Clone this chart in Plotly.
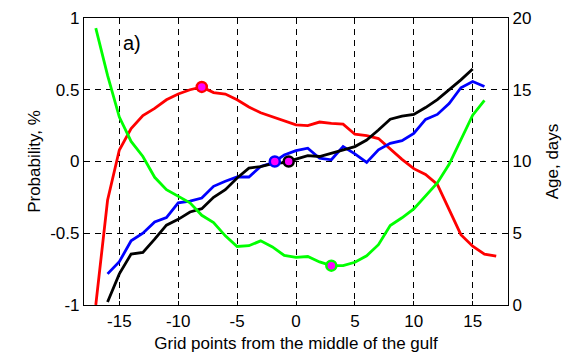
import plotly.graph_objects as go

# ---- data ----
x_red = list(range(-17, 18))
red = [-1.0, -0.27, 0.08, 0.23, 0.32, 0.37, 0.43, 0.47, 0.50, 0.52, 0.48, 0.47, 0.43, 0.38,
       0.34, 0.31, 0.28, 0.255, 0.25, 0.275, 0.265, 0.26, 0.19, 0.18, 0.16, 0.085, 0.015,
       -0.05, -0.09, -0.16, -0.34, -0.51, -0.59, -0.645, -0.66]

x_green = list(range(-17, 17))
green_age = [19.3, 16.0, 13.1, 11.4, 10.35, 8.9, 8.04, 7.55, 7.12, 6.25, 5.74, 4.82, 4.08,
             4.13, 4.47, 4.05, 3.45, 3.32, 3.38, 3.0, 2.74, 2.74, 2.98, 3.43, 4.2, 5.54,
             6.08, 6.7, 7.58, 8.51, 9.8, 11.5, 13.23, 14.26]

x_blue = list(range(-16, 17))
blue = [-0.783, -0.698, -0.553, -0.50, -0.421, -0.391, -0.288, -0.276, -0.255, -0.173,
        -0.138, -0.108, -0.108, -0.035, -0.01, 0.045, 0.076, 0.093, 0.023, 0.012, 0.104,
        0.053, -0.007, 0.081, 0.127, 0.145, 0.196, 0.293, 0.328, 0.404, 0.514, 0.558, 0.523]

x_black = list(range(-16, 16))
black = [-0.979, -0.783, -0.645, -0.633, -0.541, -0.444, -0.403, -0.352, -0.329, -0.249,
         -0.196, -0.115, -0.046, -0.035, -0.015, -0.008, 0.017, 0.041, 0.035, 0.058, 0.086,
         0.104, 0.15, 0.219, 0.295, 0.316, 0.328, 0.376, 0.431, 0.50, 0.569, 0.645]

# highlighted points
red_mark = (-8, 0.52)
blue_mark = (-1.8, 0.0)
black_mark = (-0.62, 0.0)
green_mark = (3, 2.74)

x_ticks = [-15, -10, -5, 0, 5, 10, 15]
x_ticktext = ["-15", "-10", "-5", "0", "5", "10", "15"]
y_ticks = [-1, -0.5, 0, 0.5, 1]
y_ticktext = ["-1", "-0.5", "0", "0.5", "1"]
y2_ticks = [0, 5, 10, 15, 20]
y2_ticktext = ["0", "5", "10", "15", "20"]

FONT = "Liberation Sans, Arial, Helvetica, sans-serif"
LW = 2.8

fig = go.Figure()
fig.add_trace(go.Scatter(x=x_green, y=green_age, mode="lines", yaxis="y2",
                         line=dict(color="#00ff00", width=LW)))
fig.add_trace(go.Scatter(x=x_red, y=red, mode="lines", line=dict(color="#ff0000", width=LW)))
fig.add_trace(go.Scatter(x=x_blue, y=blue, mode="lines", line=dict(color="#0000ff", width=LW)))
fig.add_trace(go.Scatter(x=x_black, y=black, mode="lines", line=dict(color="#000000", width=LW)))

for (mx, my), col, ax in [(red_mark, "#ff0000", "y"), (blue_mark, "#0000ff", "y"),
                          (black_mark, "#000000", "y"), (green_mark, "#00ff00", "y2")]:
    fig.add_trace(go.Scatter(x=[mx], y=[my], mode="markers", yaxis=ax,
                             marker=dict(size=10, color="#ff00ff", line=dict(color=col, width=2.5))))

fig.update_layout(
    width=562, height=353,
    margin=dict(l=84, r=54, t=18, b=48),
    paper_bgcolor="white", plot_bgcolor="white",
    showlegend=False,
    font=dict(family=FONT, size=16, color="black"),
    xaxis=dict(range=[-18, 18], tickvals=x_ticks, ticktext=x_ticktext, automargin=False,
               showgrid=True, gridcolor="black", gridwidth=1, griddash="6px,5px",
               showline=True, linecolor="black", linewidth=1.2, mirror=True,
               ticks="inside", ticklen=4, tickcolor="black", zeroline=False,
               title=dict(text="Grid points from the middle of the gulf", font=dict(size=17), standoff=8),
               tickfont=dict(size=17)),
    yaxis=dict(range=[-1, 1], tickvals=y_ticks, ticktext=y_ticktext, automargin=False,
               showgrid=True, gridcolor="black", gridwidth=1, griddash="6px,5px",
               showline=True, linecolor="black", linewidth=1.2,
               ticks="inside", ticklen=4, tickcolor="black", zeroline=False,
               title=dict(text="Probability, %", font=dict(size=17), standoff=5),
               tickfont=dict(size=17)),
    yaxis2=dict(range=[0, 20], tickvals=y2_ticks, ticktext=y2_ticktext, overlaying="y", side="right",
                automargin=False,
                showgrid=False, showline=True, linecolor="black", linewidth=1.2,
                ticks="inside", ticklen=4, tickcolor="black", zeroline=False,
                title=dict(text="Age, days", font=dict(size=17), standoff=15),
                tickfont=dict(size=17)),
    annotations=[dict(text="a)", x=0.088, y=0.913, xref="paper", yref="paper",
                      xanchor="left", yanchor="middle", showarrow=False, font=dict(size=20))],
)

fig.write_html("out.html")
